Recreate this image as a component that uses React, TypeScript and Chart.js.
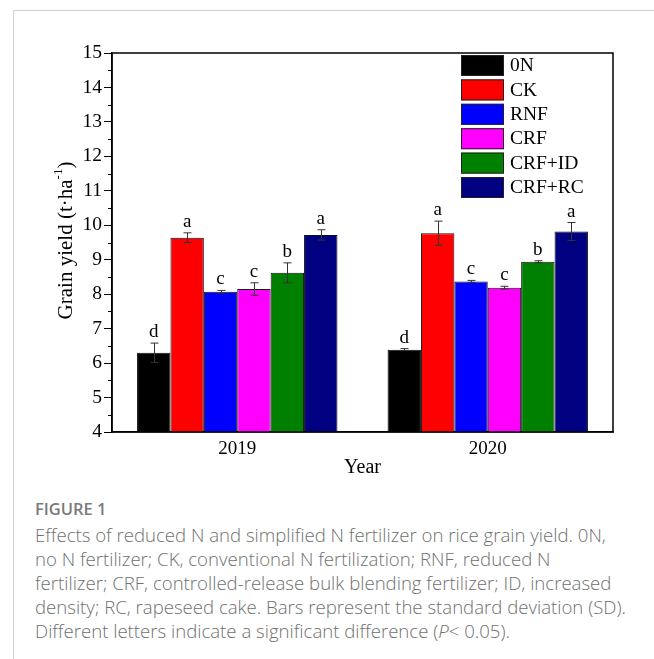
import React, { useEffect, useRef } from 'react';
import { Chart, registerables } from 'chart.js';

Chart.register(...registerables);

const years = ['2019', '2020'];
const treatments = ['0N', 'CK', 'RNF', 'CRF', 'CRF+ID', 'CRF+RC'];
const barColors = ['#000000', '#FF0000', '#0000FF', '#FF00FF', '#008000', '#000080'];

const yield0N = [6.30, 6.39];
const yieldCK = [9.64, 9.77];
const yieldRNF = [8.07, 8.37];
const yieldCRF = [8.15, 8.19];
const yieldCRFID = [8.62, 8.94];
const yieldCRFRC = [9.72, 9.82];

const sd0N = [0.28, 0.03];
const sdCK = [0.14, 0.35];
const sdRNF = [0.04, 0.03];
const sdCRF = [0.18, 0.04];
const sdCRFID = [0.29, 0.03];
const sdCRFRC = [0.15, 0.26];

const letters2019 = ['d', 'a', 'c', 'c', 'b', 'a'];
const letters2020 = ['d', 'a', 'c', 'c', 'b', 'a'];

const yTicksMin = 4;
const yTicksMax = 15;

const yieldSeries = [yield0N, yieldCK, yieldRNF, yieldCRF, yieldCRFID, yieldCRFRC];
const sdSeries = [sd0N, sdCK, sdRNF, sdCRF, sdCRFID, sdCRFRC];
const lettersByYear = [letters2019, letters2020];

const SERIF = '"Liberation Serif", "Times New Roman", serif';

const overlayPlugin = {
  id: 'overlay',
  afterDatasetsDraw(chart: any) {
    const { ctx } = chart;
    const ys = chart.scales.y;
    ctx.save();
    ctx.strokeStyle = '#333333';
    ctx.lineWidth = 1;
    chart.data.datasets.forEach((ds: any, di: number) => {
      const meta = chart.getDatasetMeta(di);
      meta.data.forEach((el: any, i: number) => {
        const v = ds.data[i];
        const sd = sdSeries[di][i];
        const yt = ys.getPixelForValue(v + sd);
        const yb = ys.getPixelForValue(v - sd);
        const x = Math.round(el.x) + 0.5;
        ctx.beginPath();
        ctx.moveTo(x, yt);
        ctx.lineTo(x, yb);
        ctx.moveTo(x - 4, yt);
        ctx.lineTo(x + 4, yt);
        ctx.moveTo(x - 4, yb);
        ctx.lineTo(x + 4, yb);
        ctx.stroke();
        ctx.fillStyle = '#000';
        ctx.font = `19px ${SERIF}`;
        ctx.textAlign = 'center';
        ctx.textBaseline = 'alphabetic';
        ctx.fillText(lettersByYear[i][di], el.x, yt - 6);
      });
    });
    ctx.restore();
  },
  afterDraw(chart: any) {
    const { ctx, chartArea } = chart;
    const ys = chart.scales.y;
    const { left, right, top, bottom } = chartArea;
    ctx.save();
    ctx.strokeStyle = '#000';
    ctx.lineWidth = 1.5;
    ctx.strokeRect(left, top, right - left, bottom - top);
    ctx.lineWidth = 1;
    for (let v = yTicksMin + 0.5; v < yTicksMax; v += 1) {
      const y = Math.round(ys.getPixelForValue(v)) + 0.5;
      ctx.beginPath();
      ctx.moveTo(left - 4, y);
      ctx.lineTo(left, y);
      ctx.stroke();
    }
    // legend
    const lx = 461;
    let ly = 55;
    ctx.font = `19.5px ${SERIF}`;
    ctx.textAlign = 'left';
    ctx.textBaseline = 'middle';
    chart.data.datasets.forEach((ds: any) => {
      ctx.fillStyle = ds.backgroundColor;
      ctx.fillRect(lx, ly, 43, 21);
      ctx.strokeStyle = '#222';
      ctx.lineWidth = 1;
      ctx.strokeRect(lx + 0.5, ly + 0.5, 42, 20);
      ctx.fillStyle = '#000';
      ctx.fillText(ds.label, 510, ly + 11);
      ly += 24.4;
    });
    // y title
    ctx.save();
    const cx = 66;
    const cy = (top + bottom) / 2 - 2;
    ctx.translate(cx, cy);
    ctx.rotate(-Math.PI / 2);
    const main = 'Grain yield (t\u00B7ha';
    const sup = '-1';
    const close = ')';
    ctx.font = `21px ${SERIF}`;
    const w1 = ctx.measureText(main).width;
    const w3 = ctx.measureText(close).width;
    ctx.font = `13px ${SERIF}`;
    const w2 = ctx.measureText(sup).width;
    const total = w1 + w2 + w3;
    const x0 = -total / 2;
    ctx.fillStyle = '#000';
    ctx.textAlign = 'left';
    ctx.textBaseline = 'middle';
    ctx.font = `21px ${SERIF}`;
    ctx.fillText(main, x0, 0);
    ctx.font = `13px ${SERIF}`;
    ctx.fillText(sup, x0 + w1, -7);
    ctx.font = `21px ${SERIF}`;
    ctx.fillText(close, x0 + w1 + w2, 0);
    ctx.restore();
    // x title
    ctx.font = `20px ${SERIF}`;
    ctx.fillStyle = '#000';
    ctx.textAlign = 'center';
    ctx.textBaseline = 'middle';
    ctx.fillText('Year', (left + right) / 2, 468);
    ctx.restore();
  },
};

export default function App() {
  const ref = useRef<HTMLCanvasElement>(null);
  useEffect(() => {
    if (!ref.current) return;
    const chart = new Chart(ref.current, {
      type: 'bar',
      data: {
        labels: years,
        datasets: treatments.map((t, i) => ({
          label: t,
          data: yieldSeries[i],
          backgroundColor: barColors[i],
          borderColor: '#111111',
          borderWidth: 1,
          categoryPercentage: 0.8,
          barPercentage: 1.0,
        })),
      },
      options: {
        animation: false,
        responsive: false,
        devicePixelRatio: 1,
        layout: { padding: { left: 0, right: 41, top: 53, bottom: 0 } },
        plugins: {
          legend: { display: false },
          tooltip: { enabled: false },
        },
        scales: {
          x: {
            grid: { display: false, drawTicks: false },
            border: { display: true, color: '#000', width: 1.5 },
            ticks: {
              color: '#000',
              font: { family: SERIF, size: 19 },
              padding: 6,
            },
            afterFit: (s: any) => {
              s.height = 58;
            },
          },
          y: {
            min: yTicksMin,
            max: yTicksMax,
            grid: {
              display: true,
              drawOnChartArea: false,
              drawTicks: true,
              tickLength: 8,
              color: '#000',
              lineWidth: 1,
            },
            border: { display: true, color: '#000', width: 1.5 },
            ticks: {
              stepSize: 1,
              color: '#000',
              font: { family: SERIF, size: 19.5 },
              padding: 2,
            },
            afterFit: (s: any) => {
              s.width = 112;
            },
          },
        },
      },
      plugins: [overlayPlugin],
    });
    return () => chart.destroy();
  }, []);

  return (
    <div>
      <div
        style={{
          position: 'absolute',
          left: 13,
          top: 10,
          width: 640,
          height: 648,
          borderLeft: '1px solid #d3d3d3',
          borderTop: '1px solid #d3d3d3',
        }}
      />
      <canvas
        ref={ref}
        width={654}
        height={490}
        style={{ position: 'absolute', left: 0, top: 0, width: 654, height: 490, display: 'block' }}
      />
      <div
        style={{
          position: 'absolute',
          left: 35,
          top: 497,
          width: 618,
          fontFamily: '"Open Sans", "Noto Sans", sans-serif',
          color: '#707070',
          fontSize: 18.6,
          fontWeight: 300,
          lineHeight: '24px',
        }}
      >
        <div style={{ fontWeight: 600, fontSize: 16.5, color: '#7a7a7a', marginBottom: 2 }}>FIGURE 1</div>
        <div style={{ whiteSpace: 'nowrap' }}>
          Effects of reduced N and simplified N fertilizer on rice grain yield. 0N,
          <br />
          no N fertilizer; CK, conventional N fertilization; RNF, reduced N
          <br />
          fertilizer; CRF, controlled-release bulk blending fertilizer; ID, increased
          <br />
          density; RC, rapeseed cake. Bars represent the standard deviation (SD).
          <br />
          Different letters indicate a significant difference (<i>P</i>&lt; 0.05).
        </div>
      </div>
    </div>
  );
}
